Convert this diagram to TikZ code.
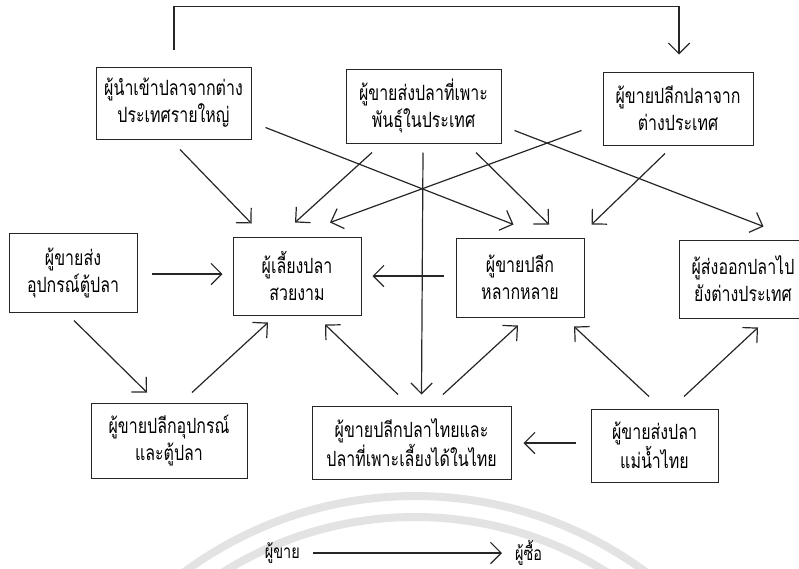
\documentclass[tikz,border=0pt]{standalone}
\usepackage{fontspec}
\newfontfamily\thaifont[Script=Thai,FakeStretch=0.76]{Loma}
\usetikzlibrary{positioning,calc,arrows.meta}
\tikzset{
  actor/.style={draw=black!85, line width=1pt, align=center, inner sep=2pt,
  font=\thaifont\fontsize{21}{27}\selectfont
  },
  legend/.style={inner sep=1pt, font=\thaifont\fontsize{19}{22}\selectfont},
  flow/.style={-{Straight Barb[angle=90:15pt]}, line width=1.2pt, draw=black!85},
  wmark/.style={draw=black!11, line width=8pt},
}

\begin{document}
\begin{tikzpicture}[x=1pt, y=-1pt]
\useasboundingbox (0,0) rectangle (799,568);

% Watermark behind everything
\draw[wmark] (415,884) ++(230:388) arc[start angle=230, end angle=310, radius=388];
\draw[wmark] (415,878) ++(230:361) arc[start angle=230, end angle=310, radius=361];

% Row 1: sources
\node[actor, minimum width=155pt, minimum height=72pt] (imp) at (173.5,103)
  {ผู้นำเข้าปลาจากต่าง\\ประเทศรายใหญ่};
\node[actor, right=94pt of imp, yshift=-3pt, minimum width=155pt, minimum height=74pt] (dom)
  {ผู้ขายส่งปลาที่เพาะ\\พันธุ์ในประเทศ};
\node[actor, right=101pt of dom, yshift=-2.5pt, minimum width=150pt, minimum height=73pt] (fret)
  {ผู้ขายปลีกปลาจาก\\ต่างประเทศ};

% Row 2
\node[actor, minimum width=128pt, minimum height=78pt] (keep) at (297,276)
  {ผู้เลี้ยงปลา\\สวยงาม};
\node[actor, left=95pt of keep, yshift=3.5pt, minimum width=128pt, minimum height=79pt] (ewh)
  {ผู้ขายส่ง\\อุปกรณ์ตู้ปลา};
\node[actor, right=94pt of keep, yshift=-1.5pt, minimum width=128pt, minimum height=79pt] (vret)
  {ผู้ขายปลีก\\หลากหลาย};
\node[actor, right=94pt of vret, yshift=-1.5pt, minimum width=128pt, minimum height=78pt] (exp)
  {ผู้ส่งออกปลาไป\\ยังต่างประเทศ};

% Row 3
\node[actor, minimum width=199pt, minimum height=73pt] (tret) at (411.5,442.5)
  {ผู้ขายปลีกปลาไทยและ\\ปลาที่เพาะเลี้ยงได้ในไทย};
\node[actor, left=64pt of tret, yshift=2pt, minimum width=156pt, minimum height=75pt] (eret)
  {ผู้ขายปลีกอุปกรณ์\\และตู้ปลา};
\node[actor, right=79pt of tret, yshift=-3pt, minimum width=127pt, minimum height=73pt] (twh)
  {ผู้ขายส่งปลา\\แม่น้ำไทย};

% Legend
\node[legend, anchor=east] (seller) at (301,553) {ผู้ขาย};
\node[legend, anchor=west] (buyer) at (514,553) {ผู้ซื้อ};

% Importer over the top to the foreign retailer
\draw[flow] ($(imp.north)+(0.5,-17)$) -- ++(0,-43) -| ($(fret.north)+(1,-17)$);

% From the top row
\draw[flow] ($(imp.south)+(6.5,10)$) -- ($(keep.north west)+(19,-13)$);
\draw[flow] ($(imp.south east)+(14,-12)$) -- ($(vret.north west)+(58,-13)$);
\draw[flow] ($(dom.south)+(-51.5,9)$) -- ($(keep.north)+(-2,-14)$);
\draw[flow] ($(dom.south)+(-0.5,9)$) -- ($(tret.north)+(10,-11)$);
\draw[flow] ($(dom.south)+(52.5,9)$) -- ($(vret.north)+(29,-13)$);
\draw[flow] ($(dom.south east)+(13,-13)$) -- ($(exp.north west)+(85,-13)$);
\draw[flow] ($(fret.south west)+(-21,-15)$) -- ($(keep.north)+(33,-14)$);
\draw[flow] ($(fret.south)+(-13,8)$) -- ($(vret.north east)+(7,-13)$);

% Middle row
\draw[flow] ($(ewh.east)+(14,1.5)$) -- ($(keep.west)+(-10,-2)$);
\draw[flow] ($(vret.west)+(-12,-1.5)$) -- ($(keep.east)+(11,0)$);
\draw[flow] ($(ewh.south)+(1,8)$) -- ($(eret.north)+(-22,-10)$);

% From the bottom row
\draw[flow] ($(eret.north)+(23,-10)$) -- ($(keep.south)+(-29,7)$);
\draw[flow] ($(tret.north)+(-13.5,-11)$) -- ($(keep.south)+(28,9)$);
\draw[flow] ($(tret.north)+(31.5,-11)$) -- ($(vret.south)+(-2,8)$);
\draw[flow] ($(twh.north)+(-5.5,-12)$) -- ($(vret.south)+(54,9)$);
\draw[flow] ($(twh.north)+(29.5,-12)$) -- ($(exp.south)+(15,9)$);
\draw[flow] ($(twh.west)+(-15,-2.5)$) -- ($(tret.east)+(12,0.5)$);

% Legend arrow
\draw[flow] ($(seller.east)+(12,0)$) -- ($(seller.east -| buyer.west)+(-12,0)$);

\end{tikzpicture}
\end{document}
